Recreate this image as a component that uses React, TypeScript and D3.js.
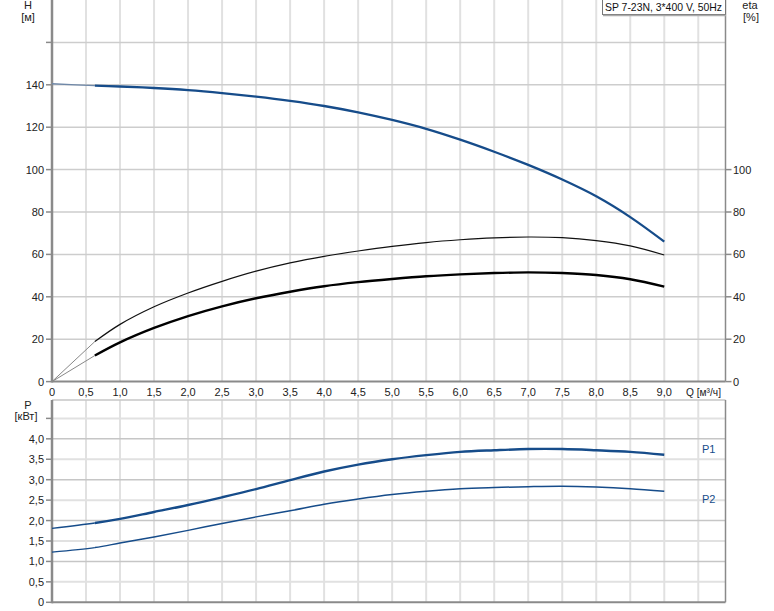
import React from "react";
import * as d3 from "d3";

// ---- data ----
const qPoints = [0.63, 1.0, 1.5, 2.0, 2.5, 3.0, 3.5, 4.0, 4.5, 5.0, 5.5, 6.0, 6.5, 7.0, 7.5, 8.0, 8.5, 9.0];
const headH = [139.6, 139.2, 138.5, 137.5, 136.1, 134.4, 132.4, 130.0, 127.0, 123.4, 119.2, 114.1, 108.4, 102.2, 95.3, 87.4, 77.6, 66.0];
const etaPump = [18.9, 27.0, 35.3, 41.8, 47.3, 52.1, 56.0, 59.1, 61.6, 63.8, 65.6, 66.9, 67.8, 68.2, 67.9, 66.5, 64.0, 59.7];
const etaTotal = [12.3, 18.5, 25.3, 30.9, 35.5, 39.3, 42.4, 45.0, 46.9, 48.4, 49.7, 50.6, 51.2, 51.5, 51.2, 50.3, 48.3, 44.8];
const powerP1 = [1.94, 2.04, 2.21, 2.38, 2.57, 2.77, 2.99, 3.20, 3.37, 3.50, 3.60, 3.68, 3.72, 3.75, 3.75, 3.72, 3.68, 3.61];
const powerP2 = [1.34, 1.45, 1.60, 1.76, 1.93, 2.09, 2.24, 2.40, 2.53, 2.64, 2.72, 2.78, 2.81, 2.83, 2.84, 2.82, 2.78, 2.72];
// values at Q = 0 (extrapolated part)
const atZero = { H: 140.5, etaPump: 0, etaTotal: 0, P1: 1.81, P2: 1.23 };

const qTicks = d3.range(0, 9.01, 0.5);
const qGrid = d3.range(0.5, 9.51, 0.5);
const hTicks = [0, 20, 40, 60, 80, 100, 120, 140, 160];
const hLabels = [0, 20, 40, 60, 80, 100, 120, 140];
const etaLabels = [0, 20, 40, 60, 80, 100];
const pTicks = [0, 0.5, 1.0, 1.5, 2.0, 2.5, 3.0, 3.5, 4.0, 4.5];
const pLabels = [0, 0.5, 1.0, 1.5, 2.0, 2.5, 3.0, 3.5, 4.0];
const title = "SP 7-23N, 3*400 V, 50Hz";

const W = 774, H = 611;
const FONT = "'Liberation Sans', Arial, sans-serif";
const BLUE = "#164c8a";

const fmt = (v: number) => (v === 0 ? "0" : v.toFixed(1).replace(".", ","));

export default function App() {
  const x = d3.scaleLinear().domain([0, 9.9]).range([52, 725.5]);
  const yH = d3.scaleLinear().domain([0, 180]).range([381.6, 0]);
  const yP = d3.scaleLinear().domain([0, 4.95]).range([602.3, 400]);

  const qAll = [0, ...qPoints];
  const mkFull = (v0: number, vals: number[], y: d3.ScaleLinear<number, number>) =>
    d3
      .line<number>()
      .x((_, i) => x(qAll[i]))
      .y((v) => y(v))
      .curve(d3.curveCatmullRom.alpha(0.5))([v0, ...vals]) as string;

  const mk = (vals: number[], y: d3.ScaleLinear<number, number>) =>
    d3
      .line<number>()
      .x((_, i) => x(qPoints[i]))
      .y((v) => y(v))
      .curve(d3.curveCatmullRom.alpha(0.5))(vals) as string;

  const ext = (v0: number, v1: number, y: d3.ScaleLinear<number, number>) =>
    d3.line<[number, number]>().x((d) => x(d[0])).y((d) => y(d[1]))([
      [0, v0],
      [qPoints[0], v1],
    ]) as string;

  const x0 = x(0), x1 = x(9.9);
  const xs = x(qPoints[0]);
  const topTop = 0, topBot = yH(0);
  const botTop = 400, botBot = yP(0);

  return (
    <svg
      width={W}
      height={H}
      style={{ position: "absolute", left: 0, top: 0, background: "#fff" }}
      fontFamily={FONT}
      fontSize={11}
    >
      <defs>
        <clipPath id="clipExt">
          <rect x={0} y={0} width={xs} height={H} />
        </clipPath>
        <clipPath id="clipMain">
          <rect x={xs} y={0} width={W - xs} height={H} />
        </clipPath>
      </defs>
      <rect x={0} y={0} width={W} height={H} fill="#fff" />
      {/* ---------- top plot grid ---------- */}
      {qGrid.map((q) => (
        <line key={"vt" + q} x1={x(q)} x2={x(q)} y1={topTop} y2={topBot} stroke="#e1e1e1" strokeWidth={2} />
      ))}
      {hTicks.filter((h) => h > 0).map((h) => (
        <line key={"ht" + h} x1={x0} x2={x1} y1={yH(h)} y2={yH(h)} stroke="#cdcdcd" strokeWidth={1.5} />
      ))}
      {/* axes top */}
      <line x1={x1} x2={x1} y1={topTop} y2={topBot} stroke="#8a8a8a" strokeWidth={1.5} />
      <line x1={x0} x2={x0} y1={topTop} y2={topBot + 1} stroke="#8a8a8a" strokeWidth={2.5} />
      <line x1={x0} x2={x1} y1={topBot} y2={topBot} stroke="#8a8a8a" strokeWidth={2} />
      {hTicks.map((h) => (
        <line key={"tk" + h} x1={x0 - 6} x2={x0} y1={yH(h)} y2={yH(h)} stroke="#8a8a8a" strokeWidth={1.5} />
      ))}
      {etaLabels.map((e) => (
        <line key={"tkr" + e} x1={x1} x2={x1 + 6} y1={yH(e)} y2={yH(e)} stroke="#8a8a8a" strokeWidth={1.5} />
      ))}
      {hLabels.map((h) => (
        <text key={"hl" + h} x={44} y={yH(h) + 4} textAnchor="end" fill="#222">
          {h}
        </text>
      ))}
      {etaLabels.map((e) => (
        <text key={"el" + e} x={733} y={yH(e) + 4} textAnchor="start" fill="#222">
          {e}
        </text>
      ))}
      {qTicks.map((q) => (
        <text key={"ql" + q} x={x(q)} y={396} textAnchor="middle" fill="#222">
          {fmt(q)}
        </text>
      ))}
      <text x={686} y={396} fill="#222" textLength={35} lengthAdjust="spacingAndGlyphs">
        Q [м³/ч]
      </text>
      <text x={28} y={9} textAnchor="middle" fill="#222">H</text>
      <text x={28} y={21} textAnchor="middle" fill="#222">[м]</text>
      <text x={750} y={9} textAnchor="middle" fill="#222">eta</text>
      <text x={751} y={21} textAnchor="middle" fill="#222">[%]</text>

      {/* title box */}
      <rect x={602.5} y={-1} width={123} height={15.5} fill="#fff" stroke="#777" strokeWidth={1} />
      <line x1={603} x2={726} y1={15.5} y2={15.5} stroke="#aaa" strokeWidth={1.5} />
      <text x={605} y={11} fill="#111" textLength={117} lengthAdjust="spacingAndGlyphs">{title}</text>

      {/* curves top */}
      <path d={mkFull(atZero.H, headH, yH)} fill="none" stroke="#6f88a8" strokeWidth={1.3} clipPath="url(#clipExt)" />
      <path d={mkFull(atZero.H, headH, yH)} fill="none" stroke={BLUE} strokeWidth={2.3} clipPath="url(#clipMain)" />
      <path d={ext(atZero.etaPump, etaPump[0], yH)} fill="none" stroke="#888" strokeWidth={1} />
      <path d={mk(etaPump, yH)} fill="none" stroke="#111" strokeWidth={1.2} />
      <path d={ext(atZero.etaTotal, etaTotal[0], yH)} fill="none" stroke="#888" strokeWidth={1} />
      <path d={mk(etaTotal, yH)} fill="none" stroke="#000" strokeWidth={2.4} />

      {/* ---------- bottom plot ---------- */}
      {qGrid.map((q) => (
        <line key={"vb" + q} x1={x(q)} x2={x(q)} y1={botTop} y2={botBot} stroke="#e1e1e1" strokeWidth={2} />
      ))}
      {pTicks.filter((p) => p > 0).map((p) => (
        <line
          key={"hb" + p}
          x1={x0}
          x2={x1}
          y1={yP(p)}
          y2={yP(p)}
          stroke={Number.isInteger(p) ? "#c6c6c6" : "#e1e1e1"}
          strokeWidth={Number.isInteger(p) ? 1.5 : 2}
        />
      ))}
      <line x1={x0} x2={x1} y1={botTop} y2={botTop} stroke="#c6c6c6" strokeWidth={1.5} />
      <line x1={x1} x2={x1} y1={botTop} y2={botBot} stroke="#8a8a8a" strokeWidth={1.5} />
      <line x1={x0} x2={x0} y1={botTop} y2={botBot + 1} stroke="#8a8a8a" strokeWidth={2.5} />
      <line x1={x0} x2={x1} y1={botBot} y2={botBot} stroke="#8a8a8a" strokeWidth={2} />
      {pTicks.map((p) => (
        <line key={"tp" + p} x1={x0 - 6} x2={x0} y1={yP(p)} y2={yP(p)} stroke="#8a8a8a" strokeWidth={1.5} />
      ))}
      {pLabels.map((p) => (
        <text key={"pl" + p} x={44} y={yP(p) + 4} textAnchor="end" fill="#222">
          {fmt(p)}
        </text>
      ))}
      <text x={28} y={409} textAnchor="middle" fill="#222">P</text>
      <text x={26} y={420} textAnchor="middle" fill="#222">[кВт]</text>

      <path d={mkFull(atZero.P1, powerP1, yP)} fill="none" stroke={BLUE} strokeWidth={1.4} clipPath="url(#clipExt)" />
      <path d={mkFull(atZero.P1, powerP1, yP)} fill="none" stroke={BLUE} strokeWidth={2.4} clipPath="url(#clipMain)" />
      <path d={mkFull(atZero.P2, powerP2, yP)} fill="none" stroke={BLUE} strokeWidth={1.2} clipPath="url(#clipExt)" />
      <path d={mkFull(atZero.P2, powerP2, yP)} fill="none" stroke={BLUE} strokeWidth={1.5} clipPath="url(#clipMain)" />
      <text x={702} y={453} fill={BLUE}>P1</text>
      <text x={702} y={503} fill={BLUE}>P2</text>
    </svg>
  );
}
